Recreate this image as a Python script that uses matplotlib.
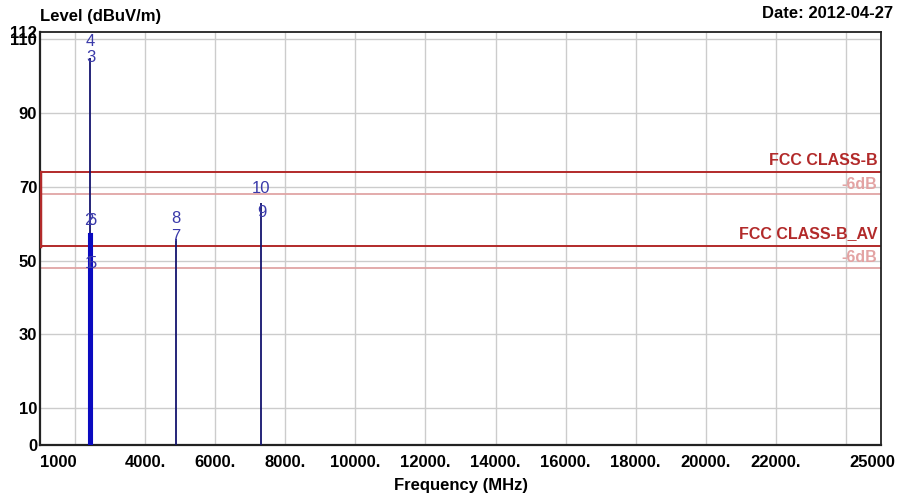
import matplotlib
matplotlib.use("Agg")
import matplotlib.pyplot as plt
from matplotlib.transforms import ScaledTranslation

plt.rcParams['font.family'] = ['Liberation Sans', 'DejaVu Sans']

# ---- data ----
x_ticks = [1000, 4000, 6000, 8000, 10000, 12000, 14000, 16000, 18000, 20000, 22000, 25000]
x_tick_labels = ["1000", "4000.", "6000.", "8000.", "10000.", "12000.", "14000.",
                 "16000.", "18000.", "20000.", "22000.", "25000"]
x_grid = [2000, 4000, 6000, 8000, 10000, 12000, 14000, 16000, 18000, 20000, 22000, 24000]
y_ticks = [0, 10, 30, 50, 70, 90, 110, 112]
y_grid = [10, 30, 50, 70, 90, 110]

# trace: vertical emission lines
trace_freq = [2440, 4880, 7320]
trace_level = [105.0, 56.0, 65.7]
# in-band block (2400 - 2483.5 MHz)
band_start = 2400
band_stop = 2483.5
band_level = 57.3

# markers
marker_id = ["1", "2", "3", "4", "5", "6", "7", "8", "9", "10"]
marker_freq = [2400, 2400, 2440, 2440, 2483.5, 2483.5, 4880, 4880, 7320, 7320]
marker_level = [49.2, 60.8, 105.0, 109.5, 49.2, 60.8, 56.5, 61.4, 63.0, 69.5]

# limit lines
limit_names = ["FCC CLASS-B", "FCC CLASS-B_AV"]
limit_levels = [74, 54]
margin_db = 6

fig = plt.figure(figsize=(8.98, 4.95), dpi=100)
ax = fig.add_axes([40/898, 1-445/495, (881-40)/898, (445-32)/495])
ax.set_xlim(1000, 25000)
ax.set_ylim(0, 112)

# grid
for g in x_grid:
    ax.axvline(g, color='#cccccc', lw=1.0, zorder=0)
for g in y_grid:
    ax.axhline(g, color='#cccccc', lw=1.0, zorder=0)

# limits
for name, lv in zip(limit_names, limit_levels):
    ax.plot([1000, 25000], [lv, lv], color='#b22a2a', lw=1.4, zorder=2)
    ax.plot([1000, 25000], [lv - margin_db, lv - margin_db], color='#e0a5a5', lw=1.3, zorder=2)
    ax.text(24900, lv + 1.2, name, color='#b22a2a', fontsize=11.5, fontweight='bold',
            ha='right', va='bottom')
    ax.text(24900, lv - 1.2, "-6dB", color='#e3a3a3', fontsize=11.5, fontweight='bold',
            ha='right', va='top')
ax.plot([1000, 1000], [min(limit_levels), max(limit_levels)], color='#b22a2a', lw=2.5, zorder=3)

# trace
ax.vlines(trace_freq, 0, trace_level, color='#14146e', lw=1.3, zorder=3)
ax.bar([(band_start + band_stop) / 2], [band_level], width=band_stop - band_start,
       color='#0a0ac0', edgecolor='#0a0ac0', lw=1.5, zorder=3)

# markers
for mid, f, lv in zip(marker_id, marker_freq, marker_level):
    ax.text(f, lv, mid, color='#3a3aaa', fontsize=12, ha='center', va='center', zorder=4)

# axes styling
for s in ax.spines.values():
    s.set_color('#222222')
    s.set_linewidth(1.3)
ax.spines['left'].set_linewidth(1.6)
ax.spines['bottom'].set_linewidth(1.6)

ax.set_xticks(x_ticks)
ax.set_xticklabels(x_tick_labels, fontsize=12, fontweight='bold')
ax.set_yticks(y_ticks)
ax.set_yticklabels([str(v) for v in y_ticks], fontsize=12, fontweight='bold')
ax.tick_params(axis='x', length=0, pad=7)
ax.tick_params(axis='y', length=0, pad=2)
xl = ax.get_xticklabels()
xl[0].set_ha('left')
xl[-1].set_ha('right')
xl[-1].set_transform(xl[-1].get_transform() + ScaledTranslation(14/100, 0, fig.dpi_scale_trans))
ax.set_xlabel("Frequency (MHz)", fontsize=12, fontweight='bold', labelpad=6)

fig.text(40/898, 1-17/495, "Level (dBuV/m)", fontsize=12, fontweight='bold', ha='left', va='center')
fig.text(893/898, 1-14/495, "Date: 2012-04-27", fontsize=12, fontweight='bold', ha='right', va='center')

fig.savefig("out.png", dpi=100)
